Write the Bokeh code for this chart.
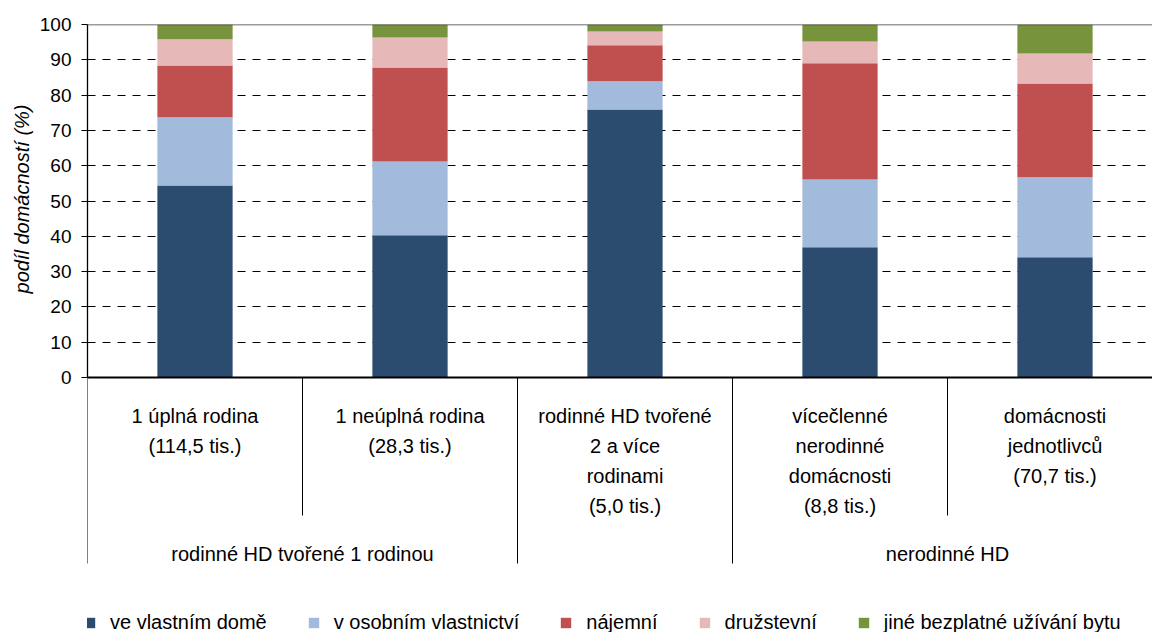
from bokeh.plotting import figure
from bokeh.models import ColumnDataSource, FixedTicker, Range1d, Span, Title
from bokeh.embed import file_html
from bokeh.resources import INLINE
from bokeh.core.properties import value

# ---------------- data ----------------
category_labels = [
    ["1 úplná rodina", "(114,5 tis.)"],
    ["1 neúplná rodina", "(28,3 tis.)"],
    ["rodinné HD tvořené", "2 a více", "rodinami", "(5,0 tis.)"],
    ["vícečlenné", "nerodinné", "domácnosti", "(8,8 tis.)"],
    ["domácnosti", "jednotlivců", "(70,7 tis.)"],
]
group_labels = ["rodinné HD tvořené 1 rodinou", "nerodinné HD"]
group_members = [[0, 1], [3, 4]]

series_names = ["ve vlastním domě", "v osobním vlastnictví", "nájemní",
                "družstevní", "jiné bezplatné užívání bytu"]
ve_vlastnim_dome = [54.4, 40.3, 75.9, 36.9, 34.1]
v_osobnim_vlastnictvi = [19.3, 20.9, 8.0, 19.2, 22.6]
najemni = [14.7, 26.6, 10.2, 32.9, 26.6]
druzstevni = [7.4, 8.5, 3.9, 6.2, 8.5]
jine_bezplatne = [4.2, 3.7, 2.0, 4.8, 8.2]

y_ticks = [0, 10, 20, 30, 40, 50, 60, 70, 80, 90, 100]
y_axis_label = "podíl domácností (%)"

colors = ["#2B4B6F", "#A2BADB", "#C0504F", "#E6B8B7", "#77933C"]

# ---------------- layout constants ----------------
FONT = "Liberation Sans"
W, H = 1152, 632
BORDER_LEFT, BORDER_TOP = 87, 24
FRAME_W = W - BORDER_LEFT
FRAME_H = H - BORDER_TOP
PX_PER_UNIT = 3.53          # vertical pixels per percent
CAT_PX = 215.0              # horizontal pixels per category
y_start = -(FRAME_H - 100 * PX_PER_UNIT) / PX_PER_UNIT
x_end = -0.5 + FRAME_W / CAT_PX


def below(px):
    """data y for a position px pixels below the 0 line"""
    return -px / PX_PER_UNIT


n = len(category_labels)
xs = list(range(n))
source = ColumnDataSource(dict(
    x=xs,
    s0=ve_vlastnim_dome, s1=v_osobnim_vlastnictvi, s2=najemni,
    s3=druzstevni, s4=jine_bezplatne,
))

p = figure(width=W, height=H, output_backend="svg", toolbar_location=None,
           x_range=Range1d(-0.5, x_end), y_range=Range1d(y_start, 100),
           min_border_left=BORDER_LEFT, min_border_top=BORDER_TOP,
           min_border_right=0, min_border_bottom=0,
           background_fill_color="white", border_fill_color="white")
p.outline_line_color = None
p.xaxis.visible = False
p.xgrid.visible = False

# y axis
yax = p.yaxis[0]
yax.ticker = FixedTicker(ticks=y_ticks)
yax.bounds = (0, 100)
yax.major_label_text_font = FONT
yax.major_label_text_font_size = "19px"
yax.major_label_text_color = "black"
yax.major_label_standoff = 10
yax.major_tick_out = 6
yax.major_tick_in = 0
yax.minor_tick_line_color = None
yax.axis_line_color = "black"
yax.axis_line_width = 1.3
yax.major_tick_line_color = "black"

# y axis title, placed beside the 0-100 part of the axis
p.add_layout(Title(text=y_axis_label, align="right", offset=80, standoff=8,
                   text_font=FONT, text_font_size="20px", text_font_style="italic",
                   text_color="black"), "left")

# grid lines
p.ygrid.ticker = FixedTicker(ticks=y_ticks[1:-1])
p.ygrid.grid_line_color = "black"
p.ygrid.grid_line_dash = "8 7"
p.ygrid.grid_line_width = 1

# bars
p.vbar_stack(["s0", "s1", "s2", "s3", "s4"], x="x", width=0.35, source=source,
             color=colors, line_color=None, legend_label=series_names)

p.add_layout(Span(location=100, dimension="width", line_color="#3a3a3a", line_width=1.6))
p.add_layout(Span(location=0, dimension="width", line_color="black", line_width=2))

# category table: separators
short_x, long_x = [], []
for i in range(n + 1):
    b = i - 0.5
    inside = any(b == g[0] + 0.5 and len(g) > 1 for g in group_members)
    (short_x if inside else long_x).append(b)
p.segment(x0=short_x, y0=[0] * len(short_x), x1=short_x, y1=[below(138)] * len(short_x),
          line_color="black", line_width=1)
p.segment(x0=long_x, y0=[0] * len(long_x), x1=long_x, y1=[below(186)] * len(long_x),
          line_color="black", line_width=1)

# category labels
tx, ty, tt = [], [], []
for i, lines in enumerate(category_labels):
    for j, line in enumerate(lines):
        tx.append(i)
        ty.append(below(38 + 30 * j))
        tt.append(line)
p.text(x=tx, y=ty, text=tt, text_font=value(FONT), text_font_size="20px",
       text_color="black", text_align="center", text_baseline="alphabetic")

gx = [sum(g) / len(g) for g in group_members]
p.text(x=gx, y=[below(176)] * len(gx), text=group_labels, text_font=value(FONT),
       text_font_size="20px", text_color="black", text_align="center",
       text_baseline="alphabetic")

# legend
lg = p.legend[0]
lg.orientation = "horizontal"
lg.location = (-4, -2)
lg.padding = 0
lg.margin = 0
lg.spacing = 40
lg.border_line_color = None
lg.background_fill_alpha = 0
lg.glyph_width = 13
lg.glyph_height = 13
lg.label_standoff = 14
lg.label_height = 20
lg.label_text_font = FONT
lg.label_text_font_size = "20px"
lg.label_text_color = "black"

open("out.html", "w").write(file_html(p, INLINE))
